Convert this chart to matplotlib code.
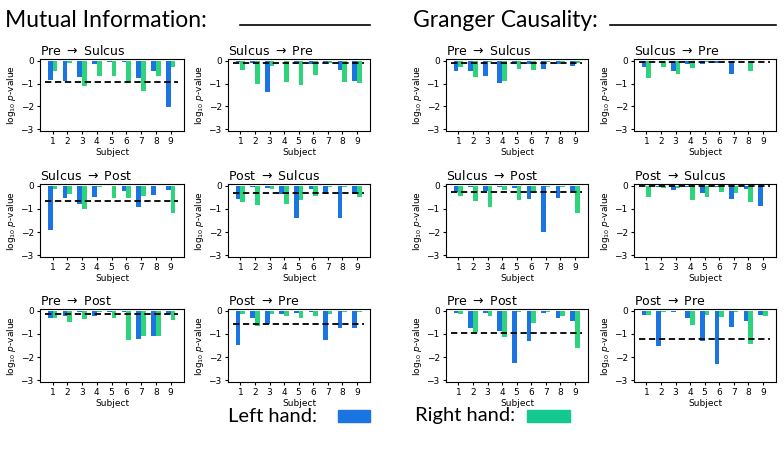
import matplotlib
matplotlib.use('Agg')
import matplotlib.pyplot as plt
import numpy as np
from matplotlib.patches import Rectangle
from matplotlib.lines import Line2D

subjects = [1, 2, 3, 4, 5, 6, 7, 8, 9]
panel_titles = ['Pre $\\rightarrow$ Sulcus', 'Sulcus $\\rightarrow$ Pre',
                'Sulcus $\\rightarrow$ Post', 'Post $\\rightarrow$ Sulcus',
                'Pre $\\rightarrow$ Post', 'Post $\\rightarrow$ Pre']

# log10 p-values, mutual information (left hand / right hand / threshold)
mi_left = [
    [-0.82, -0.90, -0.69, -0.16, -0.04, -0.04, -0.75, -0.43, -2.04],
    [-0.03, -0.10, -1.39, -0.02, -0.13, -0.16, -0.04, -0.40, -0.88],
    [-1.91, -0.53, -0.78, -0.47, -0.01, -0.21, -0.93, -0.40, -0.16],
    [-0.57, -0.03, -0.10, -0.34, -1.39, -0.12, -0.34, -1.39, -0.34],
    [-0.29, -0.24, -0.03, -0.22, -0.04, -0.03, -1.24, -1.10, -0.13],
    [-1.47, -0.29, -0.57, -0.13, -0.09, -0.04, -1.28, -0.75, -0.75],
]
mi_right = [
    [-0.43, -0.09, -1.10, -0.66, -0.66, -0.93, -1.32, -0.66, -0.28],
    [-0.42, -1.02, -0.22, -0.95, -1.07, -0.64, -0.08, -0.93, -0.96],
    [-0.13, -0.36, -1.02, -0.04, -0.53, -0.53, -0.43, -0.01, -1.19],
    [-0.68, -0.82, -0.13, -0.77, -0.62, -0.44, -0.07, -0.04, -0.47],
    [-0.29, -0.48, -0.35, -0.04, -0.31, -1.25, -1.07, -1.07, -0.40],
    [-0.13, -0.66, -0.13, -0.22, -0.31, -0.22, -0.13, -0.04, -0.04],
]
mi_thresh = [-0.92, -0.10, -0.65, -0.32, -0.13, -0.57]

# log10 p-values, Granger causality
gc_left = [
    [-0.46, -0.43, -0.66, -0.99, -0.05, -0.13, -0.37, -0.13, -0.22],
    [-0.26, -0.02, -0.44, -0.13, -0.13, -0.10, -0.60, -0.01, -0.02],
    [-0.28, -0.06, -0.24, -0.07, -0.09, -0.57, -1.99, -0.51, -0.22],
    [-0.02, -0.04, -0.20, -0.06, -0.32, -0.03, -0.57, -0.13, -0.87],
    [-0.09, -0.75, -0.10, -0.88, -2.25, -1.31, -0.09, -0.32, -0.44],
    [-0.18, -1.51, -0.03, -0.29, -1.31, -2.31, -0.71, -0.46, -0.16],
]
gc_right = [
    [-0.29, -0.71, -0.04, -0.90, -0.35, -0.40, -0.04, -0.04, -0.10],
    [-0.77, -0.26, -0.56, -0.32, -0.07, -0.01, -0.01, -0.46, -0.02],
    [-0.44, -0.65, -0.93, -0.19, -0.62, -0.24, -0.04, -0.04, -1.19],
    [-0.48, -0.10, -0.10, -0.60, -0.48, -0.26, -0.31, -0.71, -0.02],
    [-0.15, -0.91, -0.22, -1.15, -0.07, -0.51, -0.03, -0.24, -1.59],
    [-0.16, -0.07, -0.02, -0.62, -0.18, -0.28, -0.07, -1.44, -0.22],
]
gc_thresh = [-0.10, -0.03, -0.25, -0.02, -0.96, -1.24]

blue = '#1a74e2'
green = '#2ed47c'
W, H = 784, 459

fig = plt.figure(figsize=(7.84, 4.59), dpi=100)

col_px = [(40, 184), (228, 370), (446, 588), (634, 776)]
row_px = [(59, 131), (184, 257), (309, 382)]


def draw_panel(ax, left, right, thresh, title):
    x = np.array(subjects)
    ax.bar(x - 0.16, left, width=0.32, color=blue)
    ax.bar(x + 0.16, right, width=0.32, color=green)
    ax.plot([0.5, 9.5], [thresh, thresh], 'k--', lw=1.3, dashes=(3.5, 2))
    ax.set_xlim(0.15, 9.9)
    ax.set_ylim(-3.08, 0.08)
    ax.set_xticks(subjects)
    ax.set_yticks([0, -1, -2, -3])
    ax.tick_params(labelsize=6.5, length=2.5, pad=2)
    ax.set_xlabel('Subject', fontsize=6.5, labelpad=1)
    ax.set_ylabel('log$_{10}$ $p$-value', fontsize=6.5, labelpad=2)
    ax.set_title(title, loc='left', fontsize=9, pad=3)


for g, (lefts, rights, threshs) in enumerate([(mi_left, mi_right, mi_thresh),
                                              (gc_left, gc_right, gc_thresh)]):
    for i in range(6):
        r, c = divmod(i, 2)
        x0, x1 = col_px[2 * g + c]
        y0, y1 = row_px[r]
        ax = fig.add_axes([x0 / W, 1 - y1 / H, (x1 - x0) / W, (y1 - y0) / H])
        draw_panel(ax, lefts[i], rights[i], threshs[i], panel_titles[i])

# group headers with underline stubs
hfont = dict(family='Lato', fontsize=16.5, va='baseline')
fig.text(5 / W, 1 - 27 / H, 'Mutual Information:', **hfont)
fig.text(413 / W, 1 - 27 / H, 'Granger Causality:', **hfont)
fig.add_artist(Line2D([240 / W, 370 / W], [1 - 25 / H] * 2, color='black', lw=1.2))
fig.add_artist(Line2D([610 / W, 776 / W], [1 - 25 / H] * 2, color='black', lw=1.2))

# legend
lfont = dict(family='Lato', fontsize=14.5, va='center')
fig.text(228 / W, 1 - 416 / H, 'Left hand:', **lfont)
fig.text(415 / W, 1 - 416 / H, 'Right hand:', **lfont)
fig.add_artist(Rectangle((338 / W, 1 - 422 / H), 32 / W, 12 / H, color=blue))
fig.add_artist(Rectangle((527 / W, 1 - 422 / H), 43 / W, 12 / H, color='#14c98f'))

fig.savefig('out.png', dpi=100)
